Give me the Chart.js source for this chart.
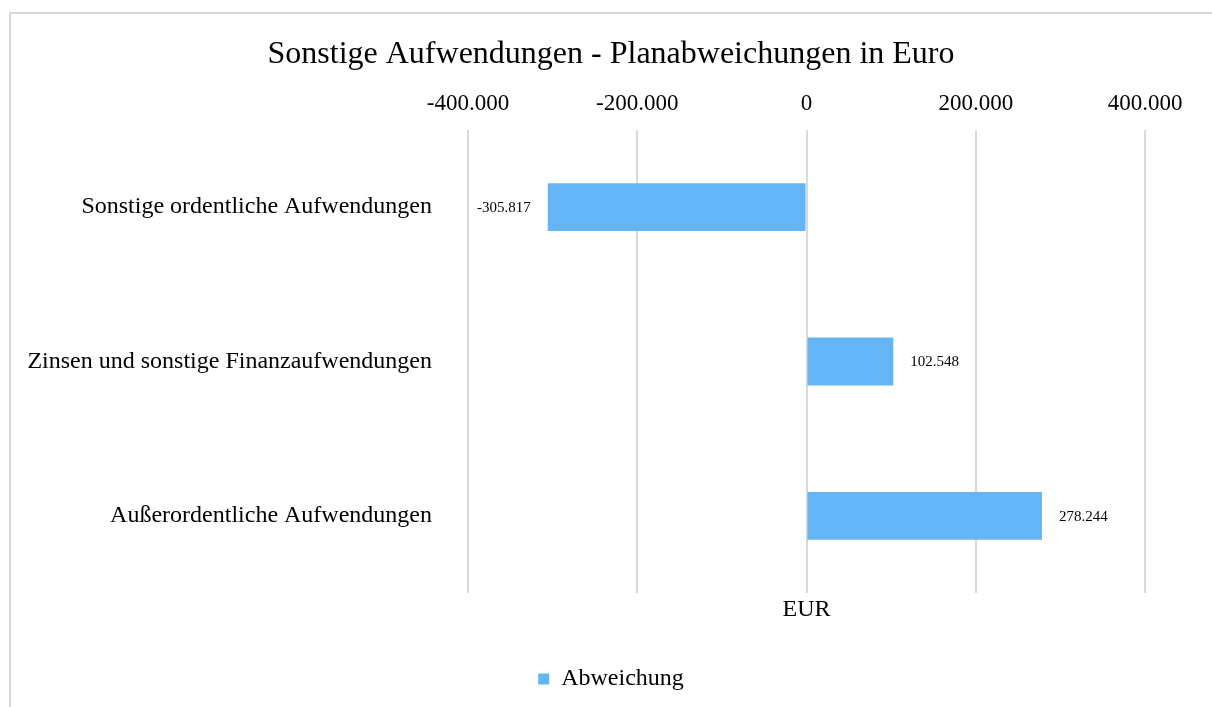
<!DOCTYPE html>
<html>
<head>
<meta charset="utf-8">
<script src="https://cdn.jsdelivr.net/npm/chart.js@4"></script>
<style>
  html, body { margin: 0; padding: 0; background: #fff; overflow: hidden; }
  #frame { position: absolute; left: 9px; top: 12px; width: 1220px; height: 720px; border: 2px solid #d9d9d9; box-sizing: border-box; }
  #wrap { position: absolute; left: 0; top: 0; width: 1212px; height: 707px; }
</style>
</head>
<body>
<div id="frame"></div>
<div id="wrap"><canvas id="chart"></canvas></div>
<script>
const categories = [
    'Sonstige ordentliche Aufwendungen',
    'Zinsen und sonstige Finanzaufwendungen',
    'Außerordentliche Aufwendungen'
];
const abweichung = [-305817, 102548, 278244];
const xMin = -400000;
const xMax = 400000;
const xStep = 200000;

const serif = '"Liberation Serif", "Times New Roman", serif';

// 1234567 -> 1.234.567
function formatDe(v) {
    const s = Math.abs(Math.round(v)).toString().replace(/\B(?=(\d{3})+(?!\d))/g, '.');
    return (v < 0 ? '-' : '') + s;
}

const valueLabels = {
    id: 'valueLabels',
    afterDatasetsDraw(chart) {
        const ctx = chart.ctx;
        const meta = chart.getDatasetMeta(0);
        const data = chart.data.datasets[0].data;
        ctx.save();
        ctx.font = '15px ' + serif;
        ctx.fillStyle = '#000';
        ctx.textBaseline = 'middle';
        meta.data.forEach((bar, i) => {
            const v = data[i];
            if (v < 0) {
                ctx.textAlign = 'right';
                ctx.fillText(formatDe(v), bar.x - 17, bar.y + 1);
            } else {
                ctx.textAlign = 'left';
                ctx.fillText(formatDe(v), bar.x + 17, bar.y + 1);
            }
        });
        ctx.restore();
    }
};

new Chart(document.getElementById('chart'), {
    type: 'bar',
    data: {
        labels: categories,
        datasets: [{
            label: 'Abweichung',
            data: abweichung,
            backgroundColor: '#64b5f6',
            borderWidth: 0,
            categoryPercentage: 1,
            barPercentage: 0.31
        }]
    },
    options: {
        indexAxis: 'y',
        responsive: true,
        maintainAspectRatio: false,
        animation: false,
        layout: { padding: { left: 10, right: 0, top: 20, bottom: 6 } },
        plugins: {
            title: {
                display: true,
                text: 'Sonstige Aufwendungen - Planabweichungen in Euro',
                color: '#000',
                font: { family: serif, size: 32, weight: 'normal' },
                padding: { top: 15.8, bottom: 4.4 }
            },
            legend: {
                display: true,
                position: 'bottom',
                labels: {
                    color: '#000',
                    font: { family: serif, size: 24 },
                    boxWidth: 11,
                    boxHeight: 11,
                    padding: 10
                }
            },
            tooltip: { enabled: false }
        },
        scales: {
            x: {
                position: 'top',
                min: xMin,
                max: xMax,
                afterFit(scale) { scale.height = 51.4; },
                ticks: {
                    stepSize: xStep,
                    color: '#000',
                    padding: 12,
                    maxRotation: 0,
                    font: { family: serif, size: 23 },
                    callback: v => formatDe(v)
                },
                grid: { color: '#d9d9d9', lineWidth: 2, drawTicks: false },
                border: { display: false }
            },
            x2: {
                type: 'linear',
                position: 'bottom',
                min: xMin,
                max: xMax,
                afterFit(scale) { scale.height = 64; },
                ticks: { display: false },
                grid: { display: false, drawTicks: false },
                border: { display: false },
                title: {
                    display: true,
                    text: 'EUR',
                    color: '#000',
                    font: { family: serif, size: 24 },
                    padding: { top: 0, bottom: 33 }
                }
            },
            y: {
                afterFit(scale) { scale.width = 458; },
                ticks: {
                    color: '#000',
                    padding: 36,
                    font: { family: serif, size: 24 }
                },
                grid: { display: false, drawTicks: false },
                border: { display: false }
            },
            // empty right-hand box so the title stays centred like the original
            y2: {
                type: 'category',
                position: 'right',
                afterFit(scale) { scale.width = 67; },
                ticks: { display: false },
                grid: { display: false, drawTicks: false },
                border: { display: false }
            }
        }
    },
    plugins: [valueLabels]
});
</script>
</body>
</html>
